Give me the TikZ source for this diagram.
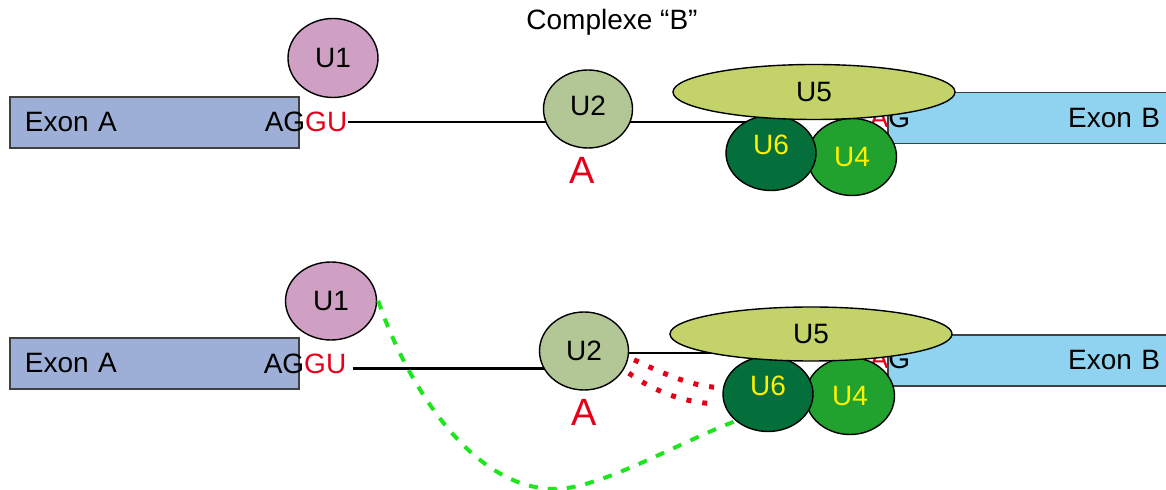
\documentclass[tikz,border=0pt]{standalone}
\usepackage{fontspec}
\setmainfont{Liberation Sans}
\usetikzlibrary{shapes.geometric,positioning,backgrounds}
\definecolor{exonA}{RGB}{157,175,214}
\definecolor{exonB}{RGB}{144,211,240}
\definecolor{cU1}{RGB}{208,159,196}
\definecolor{cU2}{RGB}{179,199,150}
\definecolor{cU5}{RGB}{195,211,105}
\definecolor{cU6}{RGB}{4,111,58}
\definecolor{cU4}{RGB}{33,162,47}
\definecolor{cred}{RGB}{228,0,27}
\definecolor{cgreen}{RGB}{30,230,30}
\definecolor{cyellow}{RGB}{255,240,0}

\begin{document}
\begin{tikzpicture}[x=0.5pt,y=-0.5pt,
  exon/.style={rectangle,draw=black!75,line width=0.7pt,minimum height=25.5pt,
    inner xsep=7.5pt,inner ysep=0pt,font=\fontsize{14}{16}\selectfont},
  snrp/.style={ellipse,draw,line width=0.7pt,inner sep=0pt,minimum width=45pt,
    minimum height=39pt,font=\fontsize{14}{16}\selectfont},
  raised/.style={text depth=8pt},
  site/.style={inner sep=0pt,font=\fontsize{14}{16}\selectfont},
  branch/.style={inner sep=0pt,text=cred,font=\fontsize{19}{22}\selectfont},
  link/.style={line width=0.6pt},
  bond/.style={cred,line width=2.5pt,dash pattern=on 2.5pt off 5.5pt,shorten <=3pt,shorten >=3pt},
  pair/.style={cgreen,line width=2pt,dash pattern=on 4.5pt off 5pt,shorten <=2pt}]
  \useasboundingbox (0,0) rectangle (1166,490);

  \node[font=\fontsize{14}{16}\selectfont] (title) at (612,22) {Complexe “B”};

  % complexe B, top
  \node[exon,fill=exonA,text width=129.5pt,align=left] (exA1) at (154.5,122.5) {Exon A};
  \node[site] (ss1) at (306,122) {AG\textcolor{cred}{GU}};
  \node[exon,fill=exonB,text width=128.5pt,align=right] (exB1) at (1031.5,118) {Exon B};
  \node[site] (as1) at (890,118) {\textcolor{cred}{A}G};
  \node[snrp,fill=cU1,minimum height=39.5pt] (u1a) at (333,58) {U1};
  \node[snrp,fill=cU2,minimum width=44.5pt,text depth=3pt] (u2a) at (588,109) {U2};
  \node[branch,below=4pt of u2a,xshift=-3pt] (brA1) {A};
  \node[snrp,fill=cU4,text=cyellow,minimum width=44.5pt,minimum height=38.5pt] (u4a) at (852,157) {U4};
  \node[snrp,raised,fill=cU6,text=cyellow,minimum height=37.5pt] (u6a) at (771,153) {U6};
  \node[snrp,fill=cU5,minimum width=141pt,minimum height=27.5pt] (u5a) at (814,92) {U5};

  % bottom
  \node[exon,fill=exonA,text width=129.5pt,align=left] (exA2) at (154.5,363.5) {Exon A};
  \node[site] (ss2) at (305,364) {AG\textcolor{cred}{GU}};
  \node[exon,fill=exonB,text width=128.5pt,align=right] (exB2) at (1031.5,360.5) {Exon B};
  \node[site] (as2) at (890,359) {\textcolor{cred}{A}G};
  \node[snrp,fill=cU1,minimum width=45.5pt] (u1b) at (331,301) {U1};
  \node[snrp,fill=cU2,minimum width=44.5pt] (u2b) at (584,351) {U2};
  \node[branch,below=4pt of u2b] (brA2) {A};
  \node[snrp,fill=cU4,text=cyellow,minimum width=44.5pt,minimum height=38.5pt] (u4b) at (850,396) {U4};
  \node[snrp,raised,fill=cU6,text=cyellow,minimum height=37.5pt] (u6b) at (768,394) {U6};
  \node[snrp,fill=cU5,minimum width=141pt,minimum height=27pt] (u5b) at (811,334) {U5};

  \begin{scope}[on background layer]
    \draw[link] (ss1.east) -- (ss1.east -| u6a.center);
    \draw[line width=1.5pt,shorten <=3pt] ([yshift=-2.5pt]ss2.east) -- ([yshift=-2.5pt]ss2.east -| u2b.center);
    \draw[link] ([yshift=-1pt]u2b.center) -- ([yshift=-1pt]u2b.center -| u6b.center);
  \end{scope}

  \draw[bond] (u2b.-8) .. controls (660,372) and (690,386) .. (u6b.172);
  \draw[bond] (u2b.-25) .. controls (655,392) and (685,403) .. (u6b.193);
  \draw[pair] (u1b.5) .. controls (405,380) and (470,489) .. (555,489)
    .. controls (600,489) and (680,442) .. (u6b.south west);
\end{tikzpicture}
\end{document}
